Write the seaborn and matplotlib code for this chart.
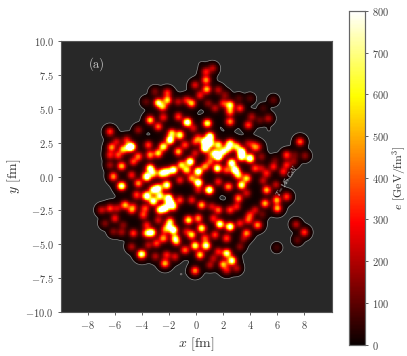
import numpy as np
import pandas as pd
import matplotlib
matplotlib.use("Agg")
import matplotlib.pyplot as plt
import seaborn as sns

# Hot spots: position [fm] and peak energy density [GeV/fm^3]
spot_x = [
 -3.39,-2.41,-0.64,0.84,2.51,2.51,3.86,-2.78,-4.25,-1.3,-0.2,-4.75,-3.52,
 -1.92,-1.18,-2.41,-1.79,-2.78,-3.39,-4.25,-4.62,
 -0.81,-1.3,-0.07,1.03,0.67,0.67,1.03,0.17,
 2.51,1.65,1.65,2.02,2.39,1.4,3.37,3.37,3.99,3.0,4.36,3.86,
 -0.44,-1.06,-0.69,0.17,0.67,-0.07,1.03,1.58,1.03,2.63,2.88,3.13,2.26,3.74,3.37,2.39,1.65,4.36,
 -1.67,-2.16,-2.53,-3.39,-3.64,-3.15,-4.25,-4.75,-1.18,
 0.17,-0.32,0.98,-2.16,-2.78,-3.15,-3.64,-2.66,
 -3.15,-2.04,-1.92,-2.29,-1.67,-2.66,-3.76,-4.38,-4.75,-3.89,-4.62,
 -1.18,-0.32,0.42,1.16,0.17,3.13,3.74,2.51,1.65,3.0,4.36,1.28,
 -0.56,0.17,-1.92,-2.04,-1.67,-2.29,-2.78,-3.64,-3.64,-3.27,-2.41,-1.55,
 1.77,2.51,3.25,-0.69,0.42,-0.32,1.4,2.26,3.86,3.74,0.67,-4.62,4.48,
 -6.35,-5.37,-4.95,-6.23,-5.73,-6.35,-5.12,-5.86,-5.49,-6.35,-6.1,-5.49,-5.24,
 -5.81,-6.96,-6.35,-5.98,-6.72,-5.37,-6.1,-5.49,
 -2.78,-2.12,-2.46,-2.12,-3.69,-1.31,-0.69,-3.03,-0.32,0.74,1.23,0.74,-0.07,0.79,
 1.65,2.14,0.3,0.9,2.02,2.51,1.4,3.25,3.99,3.18,5.71,4.97,5.34,4.72,4.11,4.23,4.6,
 5.71,5.83,6.7,7.3,6.7,6.45,7.68,8.05,7.2,5.22,4.85,4.85,
 5.22,5.1,5.96,6.0,6.7,4.95,5.9,7.38,8.0,7.48,5.96,4.6,3.99,4.9,
 -4.01,-4.75,-3.52,-2.91,-2.29,-2.17,-3.0,-1.55,-1.43,-0.81,-0.07,0.74,0.3,1.65,
 2.27,2.64,2.02,-0.07,1.28,1.03,3.0,2.27,3.25,3.5,
 0.37,5.39,-1.13,
]
spot_y = [
 4.17,4.37,4.0,3.93,4.79,4.05,3.8,3.68,3.43,4.42,3.56,2.2,2.33,
 2.7,3.06,2.2,3.19,1.71,1.59,1.47,1.1,
 2.33,1.83,2.57,2.94,2.57,2.08,2.45,2.82,
 2.45,2.33,1.47,1.83,2.08,1.71,1.83,1.47,1.34,2.2,2.08,2.45,
 1.1,0.85,0.48,0.36,0.73,1.71,1.1,0.6,1.59,1.0,0.48,0.11,0.48,-0.13,-0.63,-0.75,-0.38,0.6,
 0.48,0.33,0.24,0.6,-0.01,0.24,-0.5,0.11,-0.26,
 -0.45,-0.13,-1.0,-0.63,-0.87,-1.0,-1.44,-1.44,
 -1.81,-1.61,-1.98,-2.35,-2.22,-2.47,-2.35,-1.36,-2.47,-2.84,-2.22,
 -1.73,-1.73,-2.1,-2.22,-1.0,-1.61,-1.24,-2.47,-2.47,-2.22,-2.47,-3.09,
 -3.21,-3.09,-3.33,-3.7,-3.95,-3.95,-3.21,-3.58,-4.19,-4.14,-4.56,-4.56,
 -3.51,-3.7,-3.45,-4.07,-3.82,-4.31,-4.31,-4.56,-3.21,-4.19,-4.56,-4.19,-3.58,
 3.3,2.0,2.15,2.15,1.58,1.58,2.69,2.57,0.77,0.84,0.0,-0.7,-2.1,
 -2.35,-2.47,-2.35,-3.09,-3.46,-3.58,-4.07,-4.12,
 5.45,5.64,5.15,6.18,5.52,5.52,5.64,6.26,5.4,7.73,7.98,7.12,6.75,6.43,
 6.38,6.0,6.0,5.4,5.4,5.27,5.03,5.03,5.76,5.76,5.64,5.03,4.29,4.17,4.41,2.32,2.2,
 0.72,1.2,1.58,1.58,0.85,0.35,2.57,1.53,1.1,0.23,1.46,0.6,
 -1.0,-1.98,-1.73,-2.35,-1.49,-0.3,-0.6,-3.53,-4.12,-4.69,-5.25,-3.58,-2.84,-2.8,
 -5.74,-5.18,-5.06,-4.93,-6.41,-5.79,-5.9,-5.92,-4.81,-5.43,-5.1,-5.1,-5.79,-5.55,
 -5.67,-6.21,-6.48,-6.95,-6.04,-6.53,-6.78,-6.9,-5.18,-4.6,
 8.3,3.43,-7.22,
]
spot_e = [
 500,250,800,600,400,400,300,350,150,300,200,700,300,
 800,600,600,500,500,400,350,300,
 300,450,250,800,800,800,700,300,
 600,550,800,600,500,600,800,700,800,500,200,150,
 800,500,500,800,400,200,300,700,200,750,800,500,300,500,650,400,250,300,
 750,650,600,700,800,500,400,250,250,
 800,400,800,700,700,650,800,600,
 700,800,800,750,500,600,300,300,350,300,200,
 300,250,450,200,200,400,200,300,350,250,200,250,
 550,400,500,450,800,300,200,250,500,700,400,500,
 700,750,250,200,600,500,300,300,300,400,300,300,200,
 300,450,550,400,300,250,250,200,450,150,400,700,450,
 200,200,300,250,120,120,120,150,
 600,500,450,280,90,180,250,110,450,250,180,400,220,450,
 180,130,250,130,260,600,180,300,70,70,90,55,180,90,170,220,180,
 260,90,300,90,260,260,350,130,130,260,130,170,
 450,450,450,450,300,180,180,180,300,90,55,220,260,90,
 700,170,170,300,450,260,170,220,350,350,600,700,500,260,
 650,700,450,400,170,170,170,220,130,130,
 6,6,6,
]
x_ticks = [-8, -6, -4, -2, 0, 2, 4, 6, 8]
y_ticks = [-10.0, -7.5, -5.0, -2.5, 0.0, 2.5, 5.0, 7.5, 10.0]
cbar_ticks = [0, 100, 200, 300, 400, 500, 600, 700, 800]

CORE_WIDTH = 0.21   # fm
TAIL_WIDTH = 0.42   # fm
TAIL_SHARE = 0.05
GAIN = 1.1
E_EDGE = 7.5        # level of the grey contour
STEP = 0.05         # fm

sns.set_theme(style="ticks")
plt.rcParams.update({
    "font.family": "serif", "font.serif": ["cmr10"], "mathtext.fontset": "cm",
    "axes.unicode_minus": False, "axes.formatter.use_mathtext": True,
    "axes.edgecolor": "#555555", "xtick.color": "#444444", "ytick.color": "#444444",
    "text.color": "#333333", "axes.labelcolor": "#333333",
})

edges = np.arange(-10, 10 + STEP / 2, STEP)
cx = edges[:-1] + STEP / 2
cy = cx[::-1]
X, Y = np.meshgrid(cx, cy)
field = np.zeros_like(X)
for sx, sy, se in zip(spot_x, spot_y, spot_e):
    r2 = (X - sx) ** 2 + (Y - sy) ** 2
    field += GAIN * se * np.exp(-r2 / (2 * CORE_WIDTH ** 2))
    field += TAIL_SHARE * se * np.exp(-r2 / (2 * TAIL_WIDTH ** 2))
frame = pd.DataFrame(field, index=np.round(cy, 3), columns=np.round(cx, 3))

fig = plt.figure(figsize=(4.07, 3.56), dpi=100)
ax = fig.add_axes([60.5 / 407, 44 / 356, 271 / 407, 271 / 356])
cax = fig.add_axes([348.5 / 407, 11.5 / 356, 16.5 / 407, 333.5 / 356])
ax.set_facecolor("#282828")
sns.heatmap(frame, ax=ax, cbar_ax=cax, cmap="hot", vmin=0, vmax=800,
            mask=field < E_EDGE, xticklabels=False, yticklabels=False,
            rasterized=True, cbar_kws={"ticks": cbar_ticks})
to_col = lambda v: (np.asarray(v) + 10) / STEP
to_row = lambda v: (10 - np.asarray(v)) / STEP

cs = ax.contour(np.arange(len(cx)) + 0.5, np.arange(len(cy)) + 0.5, field,
                levels=[E_EDGE], colors="#8c8c8c", linewidths=0.5)
ax.text(to_col(6.7), to_row(-0.25), r"$T=145$ GeV", fontsize=4.5, color="#dddddd",
        rotation=58, ha="center", va="center", rotation_mode="anchor")

ax.set_xticks(to_col(x_ticks))
ax.set_xticklabels([f"${v}$" for v in x_ticks], rotation=0, fontsize=7.5)
ax.set_yticks(to_row(y_ticks))
ax.set_yticklabels([f"${v:.1f}$" for v in y_ticks], rotation=0, fontsize=7.5)
ax.tick_params(length=2.5, width=0.6, pad=2.5)
for s in ax.spines.values():
    s.set_visible(True)
    s.set_linewidth(0.8)
ax.set_xlabel(r"$x$ [fm]", fontsize=10, labelpad=3)
ax.set_ylabel(r"$y$ [fm]", fontsize=10, labelpad=2)
ax.text(to_col(-7.9), to_row(8.3), "(a)", color="#cccccc", fontsize=9, va="center")

cax.set_yticklabels([f"${v}$" for v in cbar_ticks], fontsize=7.5)
cax.tick_params(length=2.5, width=0.6, pad=2.5)
cax.set_ylabel(r"$e$ [GeV/fm$^3$]", fontsize=8.5, labelpad=1)
for s in cax.spines.values():
    s.set_visible(True)
    s.set_linewidth(0.8)
    s.set_color("#666666")

fig.savefig("out.png", dpi=100)
